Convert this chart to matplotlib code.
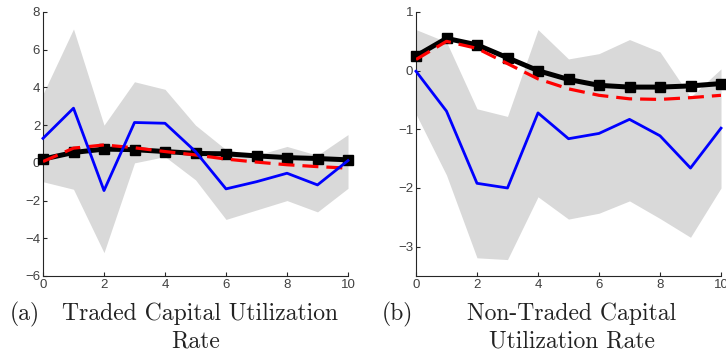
import numpy as np
import matplotlib.pyplot as plt

# horizon (quarters)
horizon = np.arange(0, 11)

# panel (a): traded capital utilization rate
a_upper = [3.65, 7.1, 2.0, 4.3, 3.9, 2.0, 0.7, 0.4, 0.87, 0.4, 1.5]
a_lower = [-1.0, -1.4, -4.76, 0.0, 0.33, -0.9, -3.0, -2.5, -2.0, -2.6, -1.35]
a_data = [1.3, 2.9, -1.47, 2.14, 2.1, 0.6, -1.38, -1.0, -0.55, -1.17, 0.12]
a_model = [0.2, 0.55, 0.73, 0.7, 0.6, 0.5, 0.48, 0.37, 0.28, 0.23, 0.16]
a_alt = [0.07, 0.78, 0.95, 0.8, 0.6, 0.42, 0.2, 0.04, -0.1, -0.2, -0.28]

# panel (b): non-traded capital utilization rate
b_upper = [0.7, 0.49, -0.65, -0.78, 0.7, 0.2, 0.29, 0.53, 0.32, -0.45, 0.03]
b_lower = [-0.74, -1.78, -3.19, -3.22, -2.15, -2.53, -2.43, -2.22, -2.52, -2.84, -2.0]
b_data = [-0.01, -0.69, -1.92, -2.0, -0.72, -1.16, -1.07, -0.83, -1.11, -1.66, -0.98]
b_model = [0.25, 0.55, 0.44, 0.22, 0.0, -0.15, -0.25, -0.28, -0.28, -0.26, -0.22]
b_alt = [0.19, 0.5, 0.38, 0.12, -0.14, -0.31, -0.42, -0.48, -0.49, -0.46, -0.42]

plt.rcParams['font.family'] = ['Liberation Sans', 'DejaVu Sans']

fig = plt.figure(figsize=(7.26, 3.51), dpi=100)
ax1 = fig.add_axes([43 / 726, 75 / 351, 305 / 726, 264 / 351])
ax2 = fig.add_axes([416 / 726, 75 / 351, 305 / 726, 264 / 351])


def draw_panel(ax, upper, lower, data, model, alt, ylim, yticks):
    ax.fill_between(horizon, lower, upper, color='#d9d9d9', linewidth=0, zorder=1)
    ax.plot(horizon, model, color='black', lw=3.6, marker='s', ms=7.5, zorder=3, clip_on=False)
    ax.plot(horizon, alt, color='red', lw=2.3, ls=(0, (5, 2.5)), zorder=4)
    ax.plot(horizon, data, color='blue', lw=2.0, zorder=5, clip_on=False)
    ax.set_xlim(0, 10)
    ax.set_ylim(*ylim)
    ax.set_xticks(range(0, 11, 2))
    ax.set_yticks(yticks)
    for s in ['top', 'right']:
        ax.spines[s].set_visible(False)
    for s in ['left', 'bottom']:
        ax.spines[s].set_color('#262626')
        ax.spines[s].set_linewidth(0.8)
    ax.tick_params(direction='in', length=3, width=0.8, color='#262626',
                   labelcolor='#404040', labelsize=9.5, pad=2)


draw_panel(ax1, a_upper, a_lower, a_data, a_model, a_alt, (-6, 8), range(-6, 9, 2))
draw_panel(ax2, b_upper, b_lower, b_data, b_model, b_alt, (-3.5, 1), range(-3, 2))

cap = dict(family='cmr10', fontsize=17, color='#222222', va='baseline')
fig.text(10 / 726, 1 - 320 / 351, '(a)', ha='left', **cap)
fig.text(200 / 726, 1 - 320 / 351, 'Traded Capital Utilization', ha='center', **cap)
fig.text(196 / 726, 1 - 347 / 351, 'Rate', ha='center', **cap)
fig.text(382 / 726, 1 - 320 / 351, '(b)', ha='left', **cap)
fig.text(572 / 726, 1 - 320 / 351, 'Non-Traded Capital', ha='center', **cap)
fig.text(572 / 726, 1 - 347 / 351, 'Utilization Rate', ha='center', **cap)

fig.savefig('out.png', dpi=100)
